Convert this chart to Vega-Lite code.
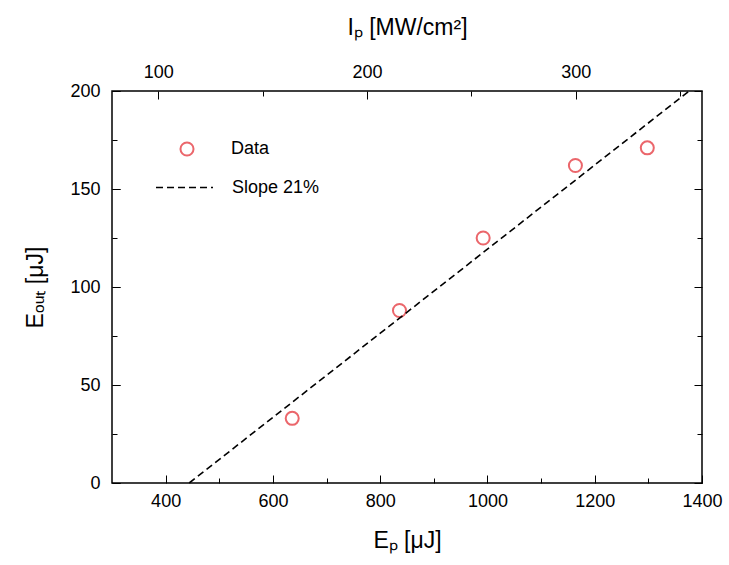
{
  "$schema": "https://vega.github.io/schema/vega-lite/v6.json",
  "width": 590,
  "height": 392,
  "autosize": {"type": "none"},
  "padding": {"left": 112, "top": 91, "right": 27, "bottom": 82},
  "config": {
    "view": {"stroke": "#000", "strokeWidth": 1.5},
    "font": "Liberation Sans",
    "axis": {
      "grid": false, "domain": false,
      "labelColor": "#000", "titleColor": "#000", "labelFont": "Liberation Sans",
      "titleFont": "Liberation Sans", "labelFontSize": 18, "titleFontSize": 23,
      "titleFontWeight": "normal", "labelFlush": false, "labelOverlap": false, "format": "d"
    },
    "legend": {"labelFont": "Liberation Sans", "labelFontSize": 18, "labelColor": "#000", "padding": 0}
  },
  "layer": [
    {
      "layer": [
        {
          "data": {"values": [
            {"Ep": 636, "Eout": 33},
            {"Ep": 836, "Eout": 88},
            {"Ep": 992, "Eout": 125},
            {"Ep": 1164, "Eout": 162},
            {"Ep": 1298, "Eout": 171}
          ]},
          "mark": {"type": "point", "shape": "circle", "filled": false, "size": 170, "strokeWidth": 2},
          "encoding": {
            "x": {"field": "Ep", "type": "quantitative",
              "scale": {"domain": [300, 1400], "nice": false, "zero": false},
              "axis": {"orient": "bottom", "values": [400, 600, 800, 1000, 1200, 1400], "ticks": true, "tickSize": 0, "labelPadding": 9, "title": "Eₚ [μJ]", "titlePadding": 19}},
            "y": {"field": "Eout", "type": "quantitative",
              "scale": {"domain": [0, 200], "nice": false},
              "axis": {"orient": "left", "values": [0, 50, 100, 150, 200], "ticks": true, "tickSize": 0, "labelPadding": 12, "title": "Eₒᵤₜ [μJ]", "titlePadding": 22}},
            "stroke": {"datum": "Data", "type": "nominal", "scale": {"range": ["#e3262d"]},
              "legend": {"title": null, "orient": "none", "legendX": 66, "legendY": 49, "symbolSize": 170, "symbolStrokeWidth": 2, "labelOffset": 35}}
          }
        },
        {
          "data": {"values": [
            {"Ep": 444, "Eout": 0},
            {"Ep": 1376, "Eout": 200}
          ]},
          "mark": {"type": "line", "color": "#000", "strokeWidth": 1.6},
          "encoding": {
            "x": {"field": "Ep", "type": "quantitative"},
            "y": {"field": "Eout", "type": "quantitative"},
            "strokeDash": {"datum": "Slope 21%", "type": "nominal", "scale": {"range": [[7, 4]]},
              "legend": {"title": null, "orient": "none", "legendX": 43, "legendY": 67, "symbolSize": 3249, "symbolStrokeWidth": 1.6, "symbolStrokeColor": "#000", "labelOffset": 18}}
          }
        }
      ]
    },
    {
      "mark": {"type": "point", "opacity": 0},
      "encoding": {
        "x": {"datum": 800, "type": "quantitative",
          "scale": {"domain": [300, 1400], "nice": false, "zero": false},
          "axis": {"orient": "top", "offset": -392, "values": [400, 600, 800, 1000, 1200, 1400], "ticks": true, "tickSize": 8, "tickColor": "black", "labels": false, "title": null}},
        "y": {"datum": 100, "type": "quantitative",
          "scale": {"domain": [0, 200], "nice": false},
          "axis": {"orient": "right", "offset": -590, "values": [0, 50, 100, 150, 200], "ticks": true, "tickSize": 8, "tickColor": "black", "labels": false, "title": null}}
      }
    },
    {
      "mark": {"type": "point", "opacity": 0},
      "encoding": {
        "x": {"datum": 800, "type": "quantitative",
          "scale": {"domain": [300, 1400], "nice": false, "zero": false},
          "axis": {"orient": "top", "offset": -392, "values": [500, 700, 900, 1100, 1300], "ticks": true, "tickSize": 5, "tickColor": "black", "labels": false, "title": null}},
        "y": {"datum": 100, "type": "quantitative",
          "scale": {"domain": [0, 200], "nice": false},
          "axis": {"orient": "right", "offset": -590, "values": [25, 75, 125, 175], "ticks": true, "tickSize": 5, "tickColor": "black", "labels": false, "title": null}}
      }
    },
    {
      "mark": {"type": "point", "opacity": 0},
      "encoding": {
        "x": {"datum": 200, "type": "quantitative",
          "scale": {"domain": [77.8, 360.5], "nice": false, "zero": false},
          "axis": {"orient": "top", "values": [100, 200, 300], "ticks": true, "tickSize": 0, "labelPadding": 10, "title": "Iₚ [MW/cm²]", "titlePadding": 24}},
        "y": {"datum": 100, "type": "quantitative",
          "scale": {"domain": [0, 200], "nice": false},
          "axis": {"orient": "left", "offset": -590, "values": [0, 50, 100, 150, 200], "ticks": true, "tickSize": 8, "tickColor": "black", "labels": false, "title": null}}
      }
    },
    {
      "mark": {"type": "point", "opacity": 0},
      "encoding": {
        "x": {"datum": 200, "type": "quantitative",
          "scale": {"domain": [77.8, 360.5], "nice": false, "zero": false},
          "axis": {"orient": "bottom", "offset": -392, "values": [100, 200, 300], "ticks": true, "tickSize": 8, "tickColor": "black", "labels": false, "title": null}},
        "y": {"datum": 100, "type": "quantitative",
          "scale": {"domain": [0, 200], "nice": false},
          "axis": {"orient": "left", "offset": -590, "values": [25, 75, 125, 175], "ticks": true, "tickSize": 5, "tickColor": "black", "labels": false, "title": null}}
      }
    },
    {
      "mark": {"type": "point", "opacity": 0},
      "encoding": {
        "x": {"datum": 200, "type": "quantitative",
          "scale": {"domain": [77.8, 360.5], "nice": false, "zero": false},
          "axis": {"orient": "bottom", "offset": -392, "values": [150, 250, 350], "ticks": true, "tickSize": 5, "tickColor": "black", "labels": false, "title": null}},
        "y": {"datum": 100, "type": "quantitative",
          "scale": {"domain": [0, 200], "nice": false},
          "axis": {"orient": "right", "offset": -590, "values": [0, 50, 100, 150, 200], "ticks": true, "tickSize": 8, "tickColor": "black", "labels": false, "title": null}}
      }
    }
  ],
  "resolve": {
    "scale": {"x": "independent", "y": "independent"},
    "axis": {"x": "independent", "y": "independent"}
  }
}
